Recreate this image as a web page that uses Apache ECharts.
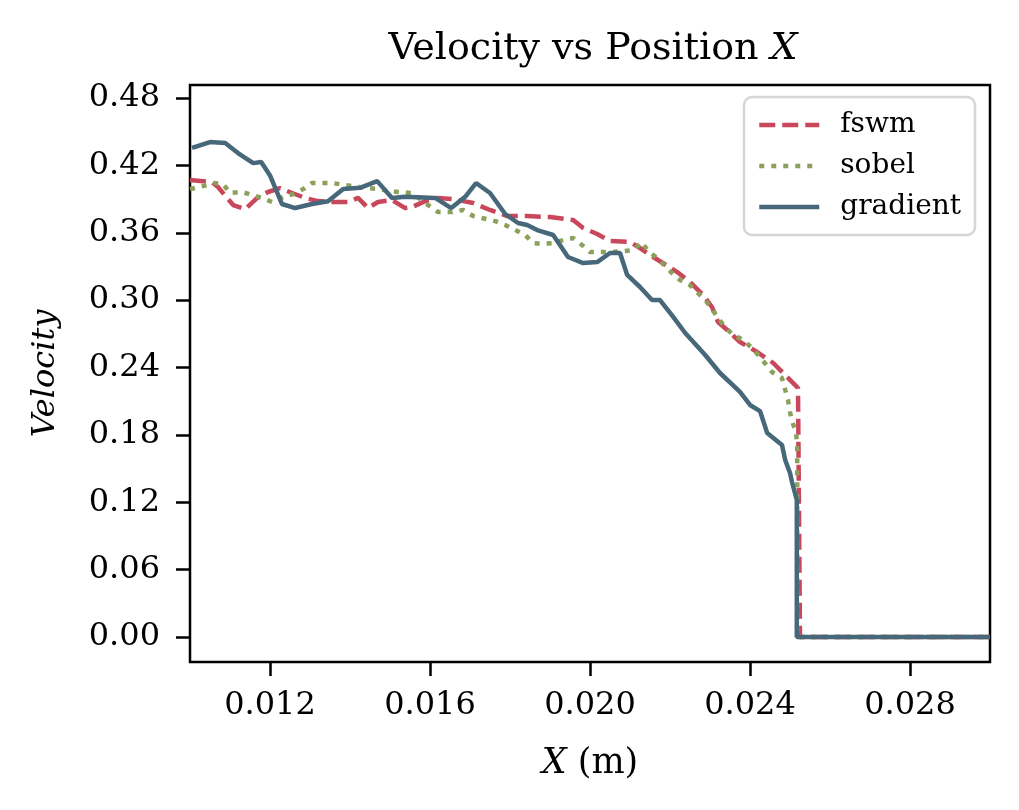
<!DOCTYPE html>
<html><head><meta charset="utf-8">
<script src="https://cdn.jsdelivr.net/npm/echarts@6/dist/echarts.min.js"></script>
<style>html,body{margin:0;padding:0;background:#fff}#c{width:1019px;height:810px}</style>
</head><body><div id="c"></div>
<script>
const xTicks = [0.012, 0.016, 0.020, 0.024, 0.028];
const yTicks = [0, 0.06, 0.12, 0.18, 0.24, 0.30, 0.36, 0.42, 0.48];

const fswmX = [0.0100,0.01055,0.0107,0.01093,0.01108,0.01138,0.01168,0.01195,0.01225,0.01255,0.01288,0.0132,0.01355,0.01395,0.0142,0.01445,0.0147,0.01505,0.01538,0.01555,0.01588,0.0162,0.01658,0.01708,0.0175,0.01793,0.01843,0.0190,0.01958,0.01983,0.02018,0.0205,0.0210,0.02125,0.02158,0.02218,0.0225,0.02283,0.02305,0.0232,0.02343,0.02375,0.02418,0.02458,0.02493,0.0252,0.02525,0.026,0.027,0.028,0.029,0.030];
const fswmY = [0.407,0.405,0.4007,0.391,0.3847,0.3811,0.391,0.3963,0.3998,0.3954,0.391,0.3882,0.3874,0.3874,0.391,0.382,0.3874,0.3891,0.382,0.3829,0.3882,0.391,0.390,0.3865,0.3803,0.3749,0.3749,0.374,0.3713,0.3642,0.3589,0.3526,0.3518,0.3464,0.3384,0.325,0.3161,0.3045,0.2939,0.2805,0.2734,0.2627,0.2538,0.244,0.2315,0.2217,0,0,0,0,0,0];

const sobelX = [0.0100,0.01033,0.01058,0.01083,0.0110,0.0113,0.01155,0.0118,0.01205,0.01233,0.01258,0.01283,0.01305,0.01355,0.01388,0.0142,0.01468,0.0152,0.01555,0.01588,0.0162,0.01655,0.01683,0.01708,0.01763,0.01788,0.01838,0.01858,0.0188,0.01908,0.01933,0.01958,0.0198,0.0200,0.0203,0.02058,0.02108,0.0213,0.02145,0.02168,0.02205,0.02225,0.0225,0.0227,0.02288,0.02305,0.0232,0.02338,0.02358,0.02383,0.02405,0.02425,0.02455,0.0248,0.02488,0.02495,0.0250,0.02505,0.02515,0.02518,0.02518,0.02518,0.026,0.027,0.028,0.029,0.030];
const sobelY = [0.3989,0.4016,0.4043,0.4034,0.3954,0.3963,0.3936,0.391,0.3874,0.3918,0.3945,0.3989,0.4043,0.4043,0.4025,0.4007,0.3989,0.3963,0.3954,0.3865,0.3785,0.3785,0.3803,0.3749,0.3704,0.3669,0.358,0.3508,0.350,0.3508,0.3535,0.3553,0.3491,0.3428,0.3428,0.3428,0.3446,0.3517,0.3437,0.3375,0.3241,0.3179,0.3134,0.3063,0.3001,0.2921,0.2841,0.276,0.2689,0.2645,0.2573,0.2493,0.236,0.2306,0.220,0.211,0.2004,0.1923,0.1825,0.171,0.1425,0,0,0,0,0,0];

const gradientX = [0.01005,0.0105,0.01088,0.0112,0.01158,0.01178,0.0120,0.0123,0.01263,0.01305,0.01345,0.01383,0.01425,0.01468,0.01505,0.01538,0.01613,0.01653,0.01688,0.01715,0.0175,0.01788,0.0182,0.01843,0.01868,0.01908,0.01945,0.01983,0.02018,0.0205,0.02075,0.02093,0.02125,0.02155,0.02175,0.02208,0.02238,0.02288,0.02325,0.02375,0.0240,0.02425,0.02443,0.0248,0.02488,0.0250,0.02505,0.02517,0.02517,0.026,0.027,0.028,0.029,0.030];
const gradientY = [0.4355,0.4408,0.4399,0.431,0.422,0.423,0.411,0.3856,0.382,0.3856,0.388,0.399,0.400,0.406,0.391,0.392,0.391,0.382,0.392,0.4043,0.3954,0.3767,0.3687,0.3669,0.3624,0.358,0.3384,0.333,0.3339,0.342,0.342,0.3224,0.3117,0.3001,0.3001,0.285,0.2707,0.2511,0.2351,0.2182,0.2066,0.2012,0.1817,0.171,0.1576,0.146,0.138,0.122,0,0,0,0,0,0];

const zip = (xs, ys) => xs.map((x, i) => [x, ys[i]]);
const FONT = 'DejaVu Serif';

const chart = echarts.init(document.getElementById('c'), null, {renderer: 'canvas'});
chart.setOption({
  animation: false,
  backgroundColor: '#fff',
  title: {
    text: 'Velocity vs Position {i|X}',
    left: 588, top: 25, textAlign: 'center',
    textStyle: {
      fontFamily: FONT, fontSize: 38, fontWeight: 'normal', color: '#000',
      rich: {i: {fontFamily: FONT, fontSize: 38, fontStyle: 'italic', color: '#000'}}
    }
  },
  grid: {left: 190, top: 85, width: 800, height: 577, show: true,
         borderColor: '#000', borderWidth: 2.5, backgroundColor: 'transparent'},
  legend: {
    orient: 'vertical', left: 744, top: 97,
    padding: [14, 14, 14, 13],
    itemWidth: 60, itemHeight: 28, itemGap: 13,
    backgroundColor: 'rgba(255,255,255,0.8)',
    borderColor: '#d6d6d6', borderWidth: 2.5, borderRadius: 8,
    itemStyle: {opacity: 0},
    lineStyle: {width: 4.5},
    textStyle: {fontFamily: FONT, fontSize: 28, color: '#000', padding: [0, 0, 0, 16]},
    data: ['fswm', 'sobel', 'gradient']
  },
  xAxis: {
    type: 'value', min: 0.010, max: 0.030,
    axisLine: {show: false, onZero: false},
    splitLine: {show: false},
    axisTick: {show: true, inside: false, length: 14, customValues: xTicks,
               lineStyle: {color: '#000', width: 2.5}},
    axisLabel: {customValues: xTicks, margin: 28, color: '#000',
                fontFamily: FONT, fontSize: 32,
                formatter: v => v.toFixed(3)},
    name: '{i|X} (m)', nameLocation: 'middle', nameGap: 84,
    nameTextStyle: {fontFamily: FONT, fontSize: 35, color: '#000',
                    rich: {i: {fontFamily: FONT, fontSize: 35, fontStyle: 'italic', color: '#000'}}}
  },
  yAxis: {
    type: 'value', min: -0.0223, max: 0.4916,
    axisLine: {show: false, onZero: false},
    splitLine: {show: false},
    axisTick: {show: true, inside: false, length: 14, customValues: yTicks,
               lineStyle: {color: '#000', width: 2.5}},
    axisLabel: {customValues: yTicks, margin: 30, color: '#000',
                fontFamily: FONT, fontSize: 32,
                formatter: v => v.toFixed(2)},
    name: 'Velocity', nameLocation: 'middle', nameGap: 128, nameRotate: 90,
    nameTextStyle: {fontFamily: FONT, fontSize: 32, fontStyle: 'italic', color: '#000'}
  },
  series: [
    {name: 'fswm', type: 'line', data: zip(fswmX, fswmY), symbol: 'none', clip: true,
     itemStyle: {color: '#c8475a'},
     lineStyle: {color: '#c8475a', width: 4.5, type: [16, 7], cap: 'butt'}},
    {name: 'sobel', type: 'line', data: zip(sobelX, sobelY), symbol: 'none', clip: true,
     itemStyle: {color: '#8ba05a'},
     lineStyle: {color: '#8ba05a', width: 4.5, type: [5, 7], cap: 'butt'}},
    {name: 'gradient', type: 'line', data: zip(gradientX, gradientY), symbol: 'none', clip: true,
     itemStyle: {color: '#46687a'},
     lineStyle: {color: '#46687a', width: 4.5, type: 'solid'}}
  ]
});
</script></body></html>
